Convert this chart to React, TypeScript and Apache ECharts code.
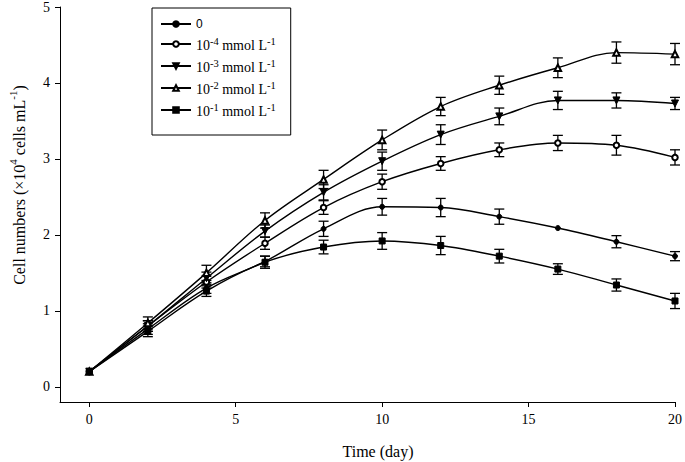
import React, { useEffect, useRef } from "react";
import * as echarts from "echarts";

const days = [0, 2, 4, 6, 8, 10, 12, 14, 16, 18, 20];
const xTicks = [0, 5, 10, 15, 20];
const yTicks = [0, 1, 2, 3, 4, 5];

const names = ["0", "-4", "-3", "-2", "-1"];
const v0 = [0.2, 0.76, 1.3, 1.65, 2.08, 2.37, 2.36, 2.24, 2.09, 1.91, 1.72];
const e0 = [0.02, 0.07, 0.07, 0.07, 0.1, 0.11, 0.12, 0.1, 0.01, 0.08, 0.06];
const v4 = [0.2, 0.8, 1.38, 1.89, 2.36, 2.7, 2.94, 3.12, 3.21, 3.18, 3.02];
const e4 = [0.02, 0.07, 0.08, 0.08, 0.09, 0.1, 0.09, 0.09, 0.1, 0.13, 0.1];
const v3 = [0.2, 0.8, 1.43, 2.05, 2.56, 2.97, 3.32, 3.56, 3.77, 3.77, 3.73];
const e3 = [0.02, 0.07, 0.08, 0.08, 0.1, 0.12, 0.13, 0.11, 0.12, 0.1, 0.08];
const v2 = [0.2, 0.84, 1.5, 2.19, 2.73, 3.25, 3.69, 3.97, 4.2, 4.4, 4.38];
const e2 = [0.02, 0.08, 0.1, 0.1, 0.12, 0.13, 0.12, 0.12, 0.13, 0.14, 0.14];
const v1 = [0.2, 0.73, 1.26, 1.64, 1.84, 1.92, 1.86, 1.72, 1.55, 1.34, 1.13];
const e1 = [0.02, 0.07, 0.07, 0.08, 0.09, 0.11, 0.12, 0.09, 0.07, 0.08, 0.1];

const symbols = ["circle", "emptyCircle", "triangle", "emptyTriangle", "rect"];
const rotations = [0, 0, 180, 0, 0];
const sizes = [5, 5.5, 7, 6.5, 6];
const values = [v0, v4, v3, v2, v1];
const errors = [e0, e4, e3, e2, e1];

const serif = "Liberation Serif";

export default function App() {
  const ref = useRef<HTMLDivElement>(null);
  useEffect(() => {
    document.body.style.margin = "0";
    if (!ref.current) return;
    const chart = echarts.init(ref.current, null, { renderer: "svg" });

    const lineSeries = names.map((n, k) => ({
      name: n,
      type: "line",
      data: days.map((d, i) => [d, values[k][i]]),
      smooth: 0.35,
      symbol: symbols[k],
      symbolRotate: rotations[k],
      symbolSize: sizes[k],
      showSymbol: true,
      lineStyle: { color: "#000", width: 1.4 },
      itemStyle: { color: "#000", borderColor: "#000", borderWidth: 1 },
      z: 3,
    }));

    const errSeries = names.map((n, k) => ({
      name: "err" + k,
      type: "custom",
      data: days.map((d, i) => [d, values[k][i], errors[k][i]]),
      encode: { x: 0, y: 1 },
      z: 2,
      renderItem: (params: any, api: any) => {
        const x = api.value(0);
        const y = api.value(1);
        const e = api.value(2);
        if (e < 0.03) return { type: "group", children: [] };
        const hi = api.coord([x, y + e]);
        const lo = api.coord([x, y - e]);
        const w = 5;
        const st = { stroke: "#000", lineWidth: 1.3 };
        return {
          type: "group",
          children: [
            { type: "line", shape: { x1: hi[0], y1: hi[1], x2: lo[0], y2: lo[1] }, style: st },
            { type: "line", shape: { x1: hi[0] - w, y1: hi[1], x2: hi[0] + w, y2: hi[1] }, style: st },
            { type: "line", shape: { x1: lo[0] - w, y1: lo[1], x2: lo[0] + w, y2: lo[1] }, style: st },
          ],
        };
      },
    }));

    chart.setOption({
      animation: false,
      backgroundColor: "#fff",
      grid: { left: 60, top: 5, right: 7, bottom: 60, containLabel: false },
      xAxis: {
        type: "value",
        min: -1,
        max: 20,
        axisLine: { onZero: false, lineStyle: { color: "#000", width: 1 } },
        axisTick: { show: true, customValues: xTicks, length: 5, lineStyle: { color: "#000" } },
        axisLabel: { customValues: xTicks, color: "#000", fontFamily: serif, fontSize: 14, margin: 10 },
        splitLine: { show: false },
      },
      yAxis: {
        type: "value",
        min: -0.2,
        max: 5,
        axisLine: { onZero: false, lineStyle: { color: "#000", width: 1 } },
        axisTick: { show: true, customValues: yTicks, length: 5, lineStyle: { color: "#000" } },
        axisLabel: { customValues: yTicks, color: "#000", fontFamily: serif, fontSize: 14, margin: 10 },
        splitLine: { show: false },
      },
      legend: {
        orient: "vertical",
        left: 152,
        top: 8,
        data: names,
        borderColor: "#000",
        borderWidth: 1,
        borderRadius: 0,
        padding: [10, 15, 17, 8],
        itemWidth: 30,
        itemHeight: 7,
        itemGap: 6,
        inactiveColor: "#000",
        formatter: (name: string) =>
          name === "0" ? "{z|0}" : `{n|10}{s|${name}}{n| mmol L}{s|-1}`,
        textStyle: {
          color: "#000",
          rich: {
            z: { fontFamily: "Liberation Sans", fontSize: 12, color: "#000", lineHeight: 16 },
            n: { fontFamily: serif, fontSize: 14, color: "#000", verticalAlign: "bottom", lineHeight: 16 },
            s: { fontFamily: serif, fontSize: 10.5, color: "#000", verticalAlign: "top", lineHeight: 16 },
          },
        },
      },
      graphic: [
        {
          type: "text",
          x: 17,
          y: 185,
          rotation: Math.PI / 2,
          style: {
            text: "{n|Cell numbers (×10}{s|4}{n| cells mL}{s|-1}{n|)}",
            align: "center",
            verticalAlign: "middle",
            rich: {
              n: { fontFamily: serif, fontSize: 16, fill: "#000", verticalAlign: "bottom", lineHeight: 20 },
              s: { fontFamily: serif, fontSize: 11, fill: "#000", verticalAlign: "top", lineHeight: 20 },
            },
          },
        },
        {
          type: "text",
          x: 378,
          y: 451,
          style: {
            text: "Time (day)",
            fontFamily: serif,
            fontSize: 16,
            fill: "#000",
            align: "center",
            verticalAlign: "middle",
          },
        },
      ],
      series: [...errSeries, ...lineSeries],
    });
    return () => chart.dispose();
  }, []);
  return <div ref={ref} style={{ width: 685, height: 462 }} />;
}
